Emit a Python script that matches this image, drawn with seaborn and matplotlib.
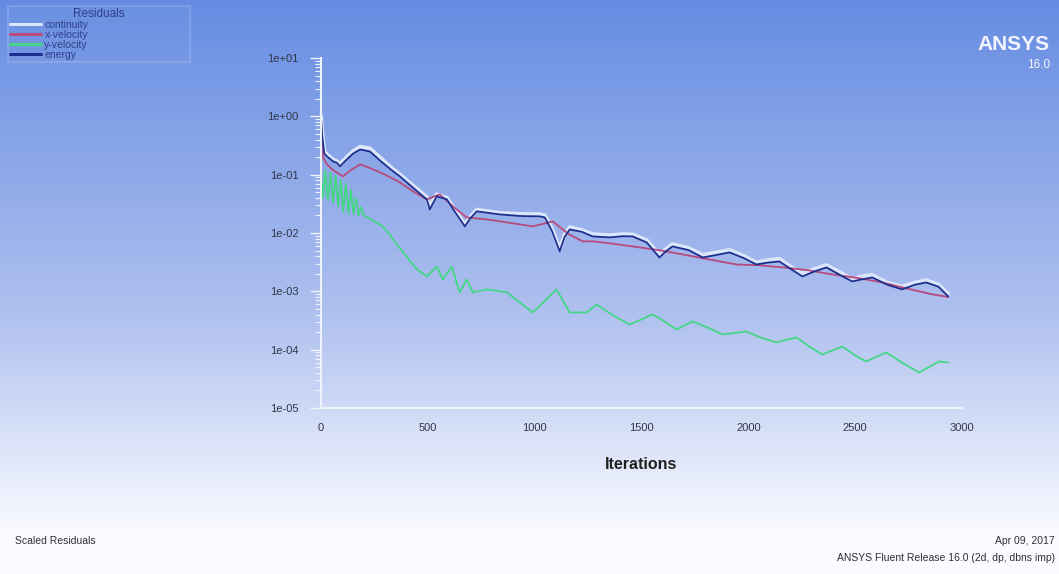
import numpy as np
import pandas as pd
import matplotlib
matplotlib.use("Agg")
import matplotlib.pyplot as plt
import seaborn as sns

# ---------------- data ----------------
energy_iter = [0, 5, 15, 28, 56, 74, 89, 121, 150, 183, 229, 280, 330, 369, 430, 495, 509, 542,
               589, 620, 673, 700, 729, 837, 940, 1024, 1047, 1080, 1117, 1140, 1164, 1220,
               1271, 1350, 1410, 1458, 1524, 1584, 1610, 1645, 1720, 1786, 1850, 1912, 1980,
               2037, 2090, 2145, 2200, 2253, 2310, 2366, 2430, 2486, 2530, 2580, 2650, 2720,
               2780, 2832, 2890, 2935]
energy_val = [0.95, 0.5, 0.23, 0.206, 0.169, 0.16, 0.139, 0.183, 0.23, 0.27, 0.25, 0.17, 0.12,
              0.0935, 0.06, 0.0377, 0.0254, 0.0425, 0.0377, 0.025, 0.013, 0.018, 0.0235,
              0.0208, 0.0195, 0.0193, 0.0185, 0.011, 0.00484, 0.0085, 0.0115, 0.0105, 0.00875,
              0.0084, 0.0088, 0.00875, 0.0069, 0.00381, 0.0047, 0.00589, 0.0051, 0.00381,
              0.0042, 0.00465, 0.0037, 0.00289, 0.0031, 0.00326, 0.0024, 0.0018, 0.0022,
              0.00257, 0.0019, 0.00148, 0.0016, 0.00173, 0.0013, 0.00108, 0.0013, 0.00142,
              0.0012, 0.00082]

continuity_iter = energy_iter
continuity_val = [1.0, 0.55, 0.25, 0.22, 0.18, 0.17, 0.15, 0.2, 0.25, 0.3, 0.28, 0.19, 0.13,
                  0.1, 0.065, 0.041, 0.028, 0.046, 0.04, 0.027, 0.014, 0.019, 0.025, 0.022,
                  0.021, 0.021, 0.02, 0.012, 0.0053, 0.0092, 0.0125, 0.0112, 0.0095, 0.0091,
                  0.0095, 0.0094, 0.0075, 0.0042, 0.0051, 0.0064, 0.0055, 0.0042, 0.0046,
                  0.0051, 0.004, 0.0031, 0.0034, 0.0036, 0.0026, 0.002, 0.0024, 0.0028, 0.0021,
                  0.0016, 0.0018, 0.0019, 0.0014, 0.0012, 0.0014, 0.00155, 0.0013, 0.0009]

xvel_iter = [0, 9, 28, 56, 103, 140, 183, 229, 300, 369, 430, 495, 556, 620, 682, 776, 880,
             991, 1085, 1160, 1225, 1271, 1360, 1458, 1580, 1692, 1820, 1944, 2050, 2160,
             2280, 2393, 2510, 2627, 2750, 2860, 2935]
xvel_val = [0.9, 0.2, 0.15, 0.12, 0.0935, 0.12, 0.15, 0.13, 0.1, 0.0738, 0.052, 0.0377, 0.0459,
            0.028, 0.0185, 0.0171, 0.015, 0.013, 0.0158, 0.0095, 0.00718, 0.0072, 0.0066,
            0.00589, 0.0051, 0.0043, 0.0035, 0.00289, 0.0028, 0.00257, 0.0023, 0.00195,
            0.0017, 0.00142, 0.0011, 0.00089, 0.0008]

yvel_iter = [0, 10, 20, 32, 44, 56, 68, 80, 92, 104, 116, 128, 140, 152, 164, 176, 188, 200,
             290, 369, 449, 495, 542, 570, 612, 649, 682, 711, 776, 870, 991, 1050, 1102,
             1164, 1244, 1290, 1370, 1444, 1500, 1552, 1610, 1664, 1738, 1810, 1878, 1991,
             2060, 2131, 2225, 2290, 2346, 2440, 2500, 2551, 2645, 2720, 2799, 2893, 2935]
yvel_val = [0.1, 0.04, 0.12, 0.037, 0.11, 0.033, 0.095, 0.029, 0.082, 0.0226, 0.07, 0.022,
            0.055, 0.021, 0.04, 0.02, 0.028, 0.02, 0.013, 0.0055, 0.00238, 0.0018, 0.00267,
            0.0016, 0.00267, 0.00096, 0.0016, 0.00096, 0.00108, 0.00096, 0.000435, 0.0007,
            0.00108, 0.000435, 0.000435, 0.000596, 0.00038, 0.00027, 0.00033, 0.000402,
            0.0003, 0.000222, 0.000305, 0.00024, 0.000182, 0.000205, 0.00016, 0.000133,
            0.000162, 0.00011, 0.0000828, 0.000113, 0.00008, 0.0000628, 0.0000895, 0.00006,
            0.0000406, 0.0000628, 0.0000603]

series_names = ["continuity", "x-velocity", "y-velocity", "energy"]
x_ticks = [0, 500, 1000, 1500, 2000, 2500, 3000]
x_tick_labels = ["0", "500", "1000", "1500", "2000", "2500", "3000"]
y_ticks = [1e1, 1e0, 1e-1, 1e-2, 1e-3, 1e-4, 1e-5]
y_tick_labels = ["1e+01", "1e+00", "1e-01", "1e-02", "1e-03", "1e-04", "1e-05"]

# ---------------- build long table ----------------
frames = []
for name, it, val in [("continuity", continuity_iter, continuity_val),
                      ("x-velocity", xvel_iter, xvel_val),
                      ("y-velocity", yvel_iter, yvel_val),
                      ("energy", energy_iter, energy_val)]:
    frames.append(pd.DataFrame({"Iterations": it, "Residual": val, "series": name}))
df = pd.concat(frames, ignore_index=True)

sns.set_theme(style="white")
plt.rcParams["font.family"] = ["Liberation Sans", "DejaVu Sans"]

W, H = 1059, 574
fig = plt.figure(figsize=(W / 100, H / 100), dpi=100)

# background gradient
bg = fig.add_axes([0, 0, 1, 1], zorder=-10)
top = np.array([102, 140, 226]) / 255
mid = np.array([175, 193, 239]) / 255
bot = np.array([250, 251, 255]) / 255
t = np.linspace(0, 1, 300)[:, None]
grad = np.where(t < 0.55, top + (mid - top) * (t / 0.55),
                mid + (bot - mid) * np.clip((t - 0.55) / 0.38, 0, 1))
bg.imshow(grad[:, None, :], aspect="auto", extent=[0, 1, 0, 1])
bg.set_axis_off()

ax = fig.add_axes([321 / W, 1 - 408 / H, 641 / W, 350 / H])
ax.set_facecolor("none")

palette = {"continuity": "#dce6fb", "x-velocity": "#b84a7c",
           "y-velocity": "#45d685", "energy": "#1c2f8f"}
widths = {"continuity": 3.0, "x-velocity": 1.3, "y-velocity": 1.3, "energy": 1.3}

for name in series_names:
    sub = df[df["series"] == name]
    sns.lineplot(data=sub, x="Iterations", y="Residual", ax=ax, color=palette[name],
                 lw=widths[name], estimator=None, sort=False, legend=False)

ax.set_yscale("log")
ax.set_ylim(1e-5, 1e1)
ax.set_xlim(0, 3000)
ax.set_yticks(y_ticks)
ax.set_yticklabels(y_tick_labels)
ax.set_xticks(x_ticks)
ax.set_xticklabels(x_tick_labels)
ax.yaxis.set_minor_locator(matplotlib.ticker.LogLocator(base=10, subs=np.arange(2, 10)))
ax.yaxis.set_minor_formatter(matplotlib.ticker.NullFormatter())
ax.tick_params(axis="y", which="major", length=8, width=1, color="#eef2fb",
               labelsize=8, labelcolor="#303848", pad=8, left=True)
ax.tick_params(axis="y", which="minor", length=4, width=0.8, color="#eef2fb", left=True)
ax.tick_params(axis="x", which="major", length=0, labelsize=8, labelcolor="#303848", pad=11)
for s in ["top", "right"]:
    ax.spines[s].set_visible(False)
for s in ["left", "bottom"]:
    ax.spines[s].set_color("#eef2fb")
    ax.spines[s].set_linewidth(1.5)
ax.set_xlabel("Iterations", fontsize=11.5, fontweight="bold", color="#202020", labelpad=17)
ax.set_ylabel("")

# legend
handles = [matplotlib.lines.Line2D([], [], color=palette[n], lw=2.2) for n in series_names]
leg = fig.legend(handles, series_names, title="Residuals", loc="upper left",
                 bbox_to_anchor=(8 / W, 1 - 7 / H, 182 / W, 1 / H), mode="expand",
                 fontsize=7.5, title_fontsize=8.5, labelspacing=0.0, handlelength=3.0,
                 handletextpad=0.3, borderpad=0.2, borderaxespad=0.0,
                 frameon=True, fancybox=False, framealpha=0.2)
leg.get_frame().set_edgecolor("#d6e0f8")
leg.get_frame().set_facecolor("#7f9fe6")
leg.get_frame().set_linewidth(1.5)
for txt in leg.get_texts():
    txt.set_color("#2f3f86")
leg.get_title().set_color("#2f3f86")

# ANSYS logo text
fig.text(1050 / W, 1 - 45 / H, "ANSYS", ha="right", va="center", fontsize=15,
         fontweight="bold", color="#f2f5ff")
fig.text(1050 / W, 1 - 65 / H, "16.0", ha="right", va="center", fontsize=8.5,
         color="#f2f5ff")

# footer
fig.text(15 / W, 1 - 541 / H, "Scaled Residuals", ha="left", va="center", fontsize=7.5,
         color="#303030")
fig.text(1055 / W, 1 - 541 / H, "Apr 09, 2017", ha="right", va="center", fontsize=7.5,
         color="#303030")
fig.text(1055 / W, 1 - 558 / H, "ANSYS Fluent Release 16.0 (2d, dp, dbns imp)", ha="right",
         va="center", fontsize=7.5, color="#303030")

fig.savefig("out.png", dpi=100)
